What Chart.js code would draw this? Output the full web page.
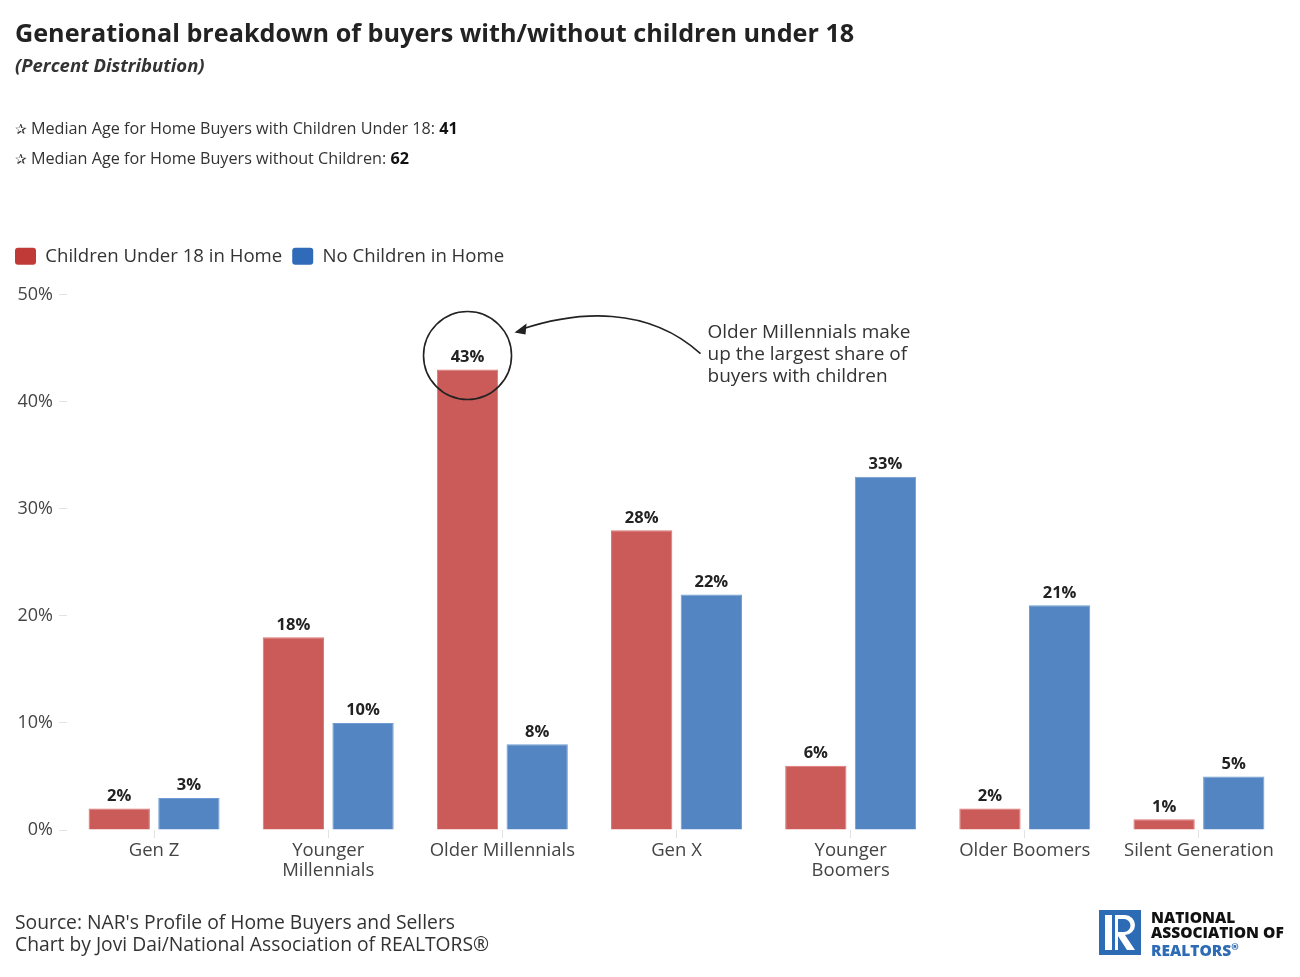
<!DOCTYPE html>
<html>
<head>
<meta charset="utf-8">
<script src="https://cdn.jsdelivr.net/npm/chart.js@4.4.1/dist/chart.umd.min.js"></script>
<style>
  body { margin: 0; background: #fff; font-family: "Open Sans", sans-serif; color: #222; }
  #wrap { position: relative; width: 1300px; height: 977px; overflow: hidden; }
  #wrap canvas { position: absolute; left: 0; top: 0; }
  .txt { position: absolute; left: 15px; white-space: nowrap; }
  #title { top: 15px; font-size: 25.2px; font-weight: 700; color: #222; }
  #sub { top: 52px; font-size: 18.5px; font-weight: 700; font-style: italic; color: #333; }
  .note { font-size: 16.2px; color: #333; }
  .note b { color: #111; }
  .star { font-family: "DejaVu Sans"; font-size: 14px; }
  .foot { font-size: 19.3px; color: #333; }
  #logo { position: absolute; left: 1099px; top: 910px; }
  #logo .box { position: absolute; left: 0; top: 0; width: 42px; height: 45px; background: #2d6cb5; }
  #logo .lt { position: absolute; left: 52px; font-size: 15.5px; font-weight: 800; line-height: 16px; color: #111; white-space: nowrap; }
</style>
</head>
<body>
<div id="wrap">
  <canvas id="myChart" width="1300" height="977"></canvas>
  <div class="txt" id="title">Generational breakdown of buyers with/without children under 18</div>
  <div class="txt" id="sub">(Percent Distribution)</div>
  <div class="txt note" style="top:117px"><span class="star">✰</span> Median Age for Home Buyers with Children Under 18: <b>41</b></div>
  <div class="txt note" style="top:147px"><span class="star">✰</span> Median Age for Home Buyers without Children: <b>62</b></div>
  <div class="txt foot" style="top:908px">Source: NAR's Profile of Home Buyers and Sellers</div>
  <div class="txt foot" style="top:930px">Chart by Jovi Dai/National Association of REALTORS®</div>
  <div id="logo">
    <div class="box">
      <svg width="42" height="45" viewBox="0 0 42 45">
        <rect x="6" y="5" width="7" height="35" fill="#fff"/>
        <path d="M16 5 H26 A10 10 0 0 1 26 25 L36 40 H28 L19 26 V40 H16 Z M19 9 V22 H25 A6.5 6.5 0 0 0 25 9 Z" fill="#fff"/>
      </svg>
    </div>
    <div class="lt" style="top:-1px">NATIONAL</div>
    <div class="lt" style="top:14px">ASSOCIATION OF</div>
    <div class="lt" style="top:29px;color:#2d6cb5">REALTORS<sup style="font-size:9px">®</sup></div>
  </div>
</div>
<script>
const categories = ["Gen Z", ["Younger", "Millennials"], "Older Millennials", "Gen X", ["Younger", "Boomers"], "Older Boomers", "Silent Generation"];
const withChildren = [2, 18, 43, 28, 6, 2, 1];
const noChildren = [3, 10, 8, 22, 33, 21, 5];
const yTicks = [0, 10, 20, 30, 40, 50];

const FONT = '"Open Sans", sans-serif';

// value labels above bars
const valueLabels = {
  id: "valueLabels",
  afterDatasetsDraw(chart) {
    const ctx = chart.ctx;
    ctx.save();
    ctx.font = "700 16.5px " + FONT;
    ctx.fillStyle = "#222";
    ctx.textAlign = "center";
    ctx.textBaseline = "bottom";
    chart.data.datasets.forEach((ds, i) => {
      chart.getDatasetMeta(i).data.forEach((bar, j) => {
        ctx.fillText(ds.data[j] + "%", bar.x, bar.y - 4);
      });
    });
    ctx.restore();
  }
};

// circle + arrow + note around the biggest bar
const callout = {
  id: "callout",
  afterDraw(chart) {
    const ctx = chart.ctx;
    const bar = chart.getDatasetMeta(0).data[2];
    const cx = bar.x, cy = bar.y - 14;
    ctx.save();
    ctx.strokeStyle = "#222";
    ctx.lineWidth = 1.6;
    ctx.beginPath();
    ctx.arc(cx, cy, 44, 0, Math.PI * 2);
    ctx.stroke();

    const sx = cx + 233, sy = cy - 2;
    const ex = cx + 47, ey = cy - 23;
    ctx.beginPath();
    ctx.moveTo(sx, sy);
    ctx.bezierCurveTo(cx + 180, cy - 50, cx + 110, cy - 45, ex + 6, ey - 3);
    ctx.stroke();
    // arrow head
    ctx.fillStyle = "#222";
    ctx.beginPath();
    ctx.moveTo(ex, ey);
    ctx.lineTo(ex + 12, ey - 9);
    ctx.lineTo(ex + 11, ey + 2);
    ctx.closePath();
    ctx.fill();

    ctx.font = "400 19px " + FONT;
    ctx.fillStyle = "#333";
    ctx.textAlign = "left";
    ctx.textBaseline = "middle";
    const lines = ["Older Millennials make", "up the largest share of", "buyers with children"];
    lines.forEach((l, k) => ctx.fillText(l, cx + 240, cy - 23 + k * 22));
    ctx.restore();
  }
};

const ctx = document.getElementById("myChart").getContext("2d");
const chart = new Chart(ctx, {
  type: "bar",
  data: {
    labels: categories,
    datasets: [{
      label: "Children Under 18 in Home",
      data: withChildren,
      backgroundColor: "#cb5b58",
      borderColor: "#de7370",
      borderWidth: 1,
      categoryPercentage: 0.8,
      barPercentage: 0.88
    }, {
      label: "No Children in Home",
      data: noChildren,
      backgroundColor: "#5285c1",
      borderColor: "#6d9bd2",
      borderWidth: 1,
      categoryPercentage: 0.8,
      barPercentage: 0.88
    }]
  },
  options: {
    responsive: false,
    animation: false,
    layout: { padding: { top: 237, left: 5, right: 14, bottom: 87 } },
    plugins: {
      tooltip: { enabled: false },
      // empty subtitle used as a spacer between legend and plot
      subtitle: {
        display: true,
        text: " ",
        weight: 500,
        font: { size: 1, lineHeight: 1 },
        padding: { top: 9, bottom: 9 }
      },
      legend: {
        position: "top",
        align: "start",
        labels: {
          font: { family: FONT, size: 18.6 },
          color: "#333",
          boxWidth: 21,
          boxHeight: 17,
          padding: 10,
          useBorderRadius: true,
          borderRadius: 3,
          generateLabels(chart) {
            const cols = ["#c03a37", "#2f6bb8"];
            return chart.data.datasets.map((ds, i) => ({
              text: ds.label,
              fillStyle: cols[i],
              strokeStyle: cols[i],
              lineWidth: 0,
              fontColor: "#333",
              borderRadius: 3,
              datasetIndex: i
            }));
          }
        }
      }
    },
    scales: {
      x: {
        grid: { drawOnChartArea: false, display: true, tickLength: 8, color: "#e2e2e2", offset: false },
        border: { display: false },
        ticks: { font: { family: FONT, size: 18.5, lineHeight: 1.08 }, color: "#444", padding: 3, maxRotation: 0, autoSkip: false },
        afterFit(scale) { scale.height = 60; }
      },
      y: {
        min: 0,
        max: 50,
        afterBuildTicks(scale) { scale.ticks = yTicks.map(v => ({ value: v })); },
        grid: { drawOnChartArea: false, tickLength: 8, color: "#e2e2e2" },
        border: { display: false },
        ticks: { font: { family: FONT, size: 18 }, color: "#444", padding: 6, callback: v => v + "%" },
        afterFit(scale) { scale.width = 62; }
      }
    }
  },
  plugins: [valueLabels, callout]
});
</script>
</body>
</html>
